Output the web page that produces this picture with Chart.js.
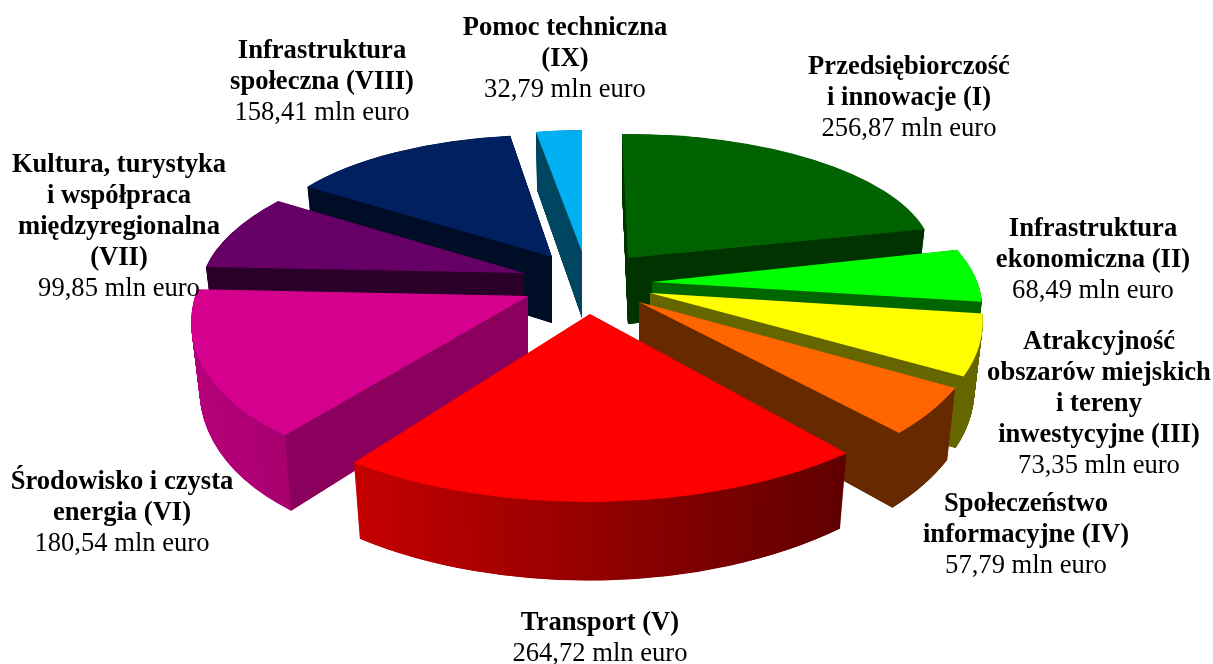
<!DOCTYPE html>
<html>
<head>
<meta charset="utf-8">
<style>
  html, body { margin: 0; padding: 0; background: #fff; }
  #wrap { width: 1213px; height: 664px; }
</style>
<script src="https://cdn.jsdelivr.net/npm/chart.js@4"></script>
</head>
<body>
<div id="wrap"><canvas id="myChart" width="1213" height="664"></canvas></div>
<script>
// values in mln euro
var categories = [
  ['Przedsiębiorczość', 'i innowacje (I)'],
  ['Infrastruktura', 'ekonomiczna (II)'],
  ['Atrakcyjność', 'obszarów miejskich', 'i tereny', 'inwestycyjne (III)'],
  ['Społeczeństwo', 'informacyjne (IV)'],
  ['Transport (V)'],
  ['Środowisko i czysta', 'energia (VI)'],
  ['Kultura, turystyka', 'i współpraca', 'międzyregionalna', '(VII)'],
  ['Infrastruktura', 'społeczna (VIII)'],
  ['Pomoc techniczna', '(IX)']
];
var values = [256.87, 68.49, 73.35, 57.79, 264.72, 180.54, 99.85, 158.41, 32.79];
var valueLabels = ['256,87 mln euro', '68,49 mln euro', '73,35 mln euro', '57,79 mln euro',
  '264,72 mln euro', '180,54 mln euro', '99,85 mln euro', '158,41 mln euro', '32,79 mln euro'];

var topColors = ['#006300', '#00ff00', '#ffff00', '#ff6600', '#ff0000', '#d6008f', '#660066', '#002060', '#00b0f0'];
var cutColors = ['#003300', '#006600', '#666600', '#662900', '#660000', '#8a005c', '#2a0029', '#000d26', '#004660'];
var rimLeft = ['#003300', '#006600', '#666600', '#662900', '#c40000', '#b8007c', '#2a0029', '#000d26', '#004660'];
var rimRight = ['#003300', '#006600', '#666600', '#662900', '#600000', '#a8006f', '#2a0029', '#000d26', '#004660'];

// layout only: where each exploded slice sits and how it is tilted (x, y, a, b, c, d)
var sliceViews = [
  [628, 258, 305, -2, 6, 124],
  [652, 282, 325, -1, 57, 145],
  [650, 293, 327, -4, 62, 172],
  [639, 302, 343, -8, 40, 184],
  [590, 314, 384, 0, -2, 188],
  [528, 296, 333, 0, -50, 176],
  [524, 273, 320, 1, -46, 133],
  [552, 257, 295, 6, -9, 122],
  [582, 252, 268, -1, 0, 122]
];
var drawOrder = [0, 8, 7, 6, 1, 2, 3, 5, 4];
var depth = 66, shrinkX = 0.025, growY = 0.067, layers = 200;

// label centre x and y of the first line
var labelSpots = [[909, 67], [1093, 229], [1099, 342], [1026, 504], [600, 623], [122, 482], [119, 165], [322, 51], [565, 28]];
var lineGap = 30.9;
var bold = 'bold 26.6px "Liberation Serif"', normal = '26.6px "Liberation Serif"';

function setLayer(ctx, arc, view, t) {
  var R = arc.outerRadius;
  ctx.translate(view[0], view[1] + depth * t);
  ctx.scale(1 - shrinkX * t, 1 + growY * t);
  ctx.transform(view[2] / R, view[3] / R, view[4] / R, view[5] / R, 0, 0);
  ctx.translate(-arc.x, -arc.y);
}

function fillArc(ctx, arc, view, t, fill) {
  var saved = arc.options;
  var opts = Object.create(saved);
  opts.backgroundColor = fill;
  opts.borderWidth = 0;
  arc.options = opts;
  ctx.save();
  setLayer(ctx, arc, view, t);
  arc.draw(ctx);
  ctx.restore();
  arc.options = saved;
}

function edgePoint(view, angle, t) {
  var ux = Math.cos(angle), uy = Math.sin(angle);
  return [view[0] + (view[2] * ux + view[4] * uy) * (1 - shrinkX * t),
    view[1] + depth * t + (view[3] * ux + view[5] * uy) * (1 + growY * t)];
}

// the cut side only shows when the slice lies above its edge on screen
function fillCut(ctx, view, angle, midAngle, color) {
  var p0 = edgePoint(view, angle, 0), p1 = edgePoint(view, angle, 1);
  var mid = edgePoint(view, midAngle, 0);
  var ex = p0[0] - view[0], ey = p0[1] - view[1];
  var side = ex * (mid[1] - view[1]) - ey * (mid[0] - view[0]);
  if (side * ex >= 0) return;
  ctx.fillStyle = color;
  ctx.beginPath();
  ctx.moveTo(view[0], view[1]);
  ctx.lineTo(p0[0], p0[1]);
  ctx.lineTo(p1[0], p1[1]);
  ctx.lineTo(view[0], view[1] + depth);
  ctx.closePath();
  ctx.fill();
}

var pie3d = {
  id: 'pie3d',
  beforeDatasetDraw: function (chart, args) {
    var ctx = chart.ctx;
    var arcs = args.meta.data;
    drawOrder.forEach(function (i) {
      var arc = arcs[i], view = sliceViews[i];
      var R = arc.outerRadius;
      var midAngle = (arc.startAngle + arc.endAngle) / 2;
      var rim = ctx.createLinearGradient(arc.x + R * Math.cos(arc.endAngle), 0, arc.x + R * Math.cos(arc.startAngle), 0);
      rim.addColorStop(0, rimLeft[i]);
      rim.addColorStop(1, rimRight[i]);
      for (var s = layers; s > 0; s--) {
        fillArc(ctx, arc, view, s / layers, rim);
      }
      fillCut(ctx, view, arc.startAngle, midAngle, cutColors[i]);
      fillCut(ctx, view, arc.endAngle, midAngle, cutColors[i]);
      fillArc(ctx, arc, view, 0, topColors[i]);
    });
    return false;
  },
  afterDatasetsDraw: function (chart) {
    var ctx = chart.ctx;
    ctx.save();
    ctx.fillStyle = '#000';
    ctx.textAlign = 'center';
    ctx.textBaseline = 'middle';
    categories.forEach(function (lines, i) {
      var y = labelSpots[i][1];
      ctx.font = bold;
      lines.forEach(function (line) {
        ctx.fillText(line, labelSpots[i][0], y);
        y += lineGap;
      });
      ctx.font = normal;
      ctx.fillText(valueLabels[i], labelSpots[i][0], y);
    });
    ctx.restore();
  }
};

var ctx = document.getElementById('myChart').getContext('2d');
var myPieChart = new Chart(ctx, {
  type: 'pie',
  data: {
    labels: categories.map(function (c) { return c.join(' '); }),
    datasets: [{ data: values, backgroundColor: topColors, borderWidth: 0 }]
  },
  options: {
    responsive: false,
    animation: false,
    layout: { padding: 0 },
    plugins: { legend: { display: false }, tooltip: { enabled: false } }
  },
  plugins: [pie3d]
});
</script>
</body>
</html>
